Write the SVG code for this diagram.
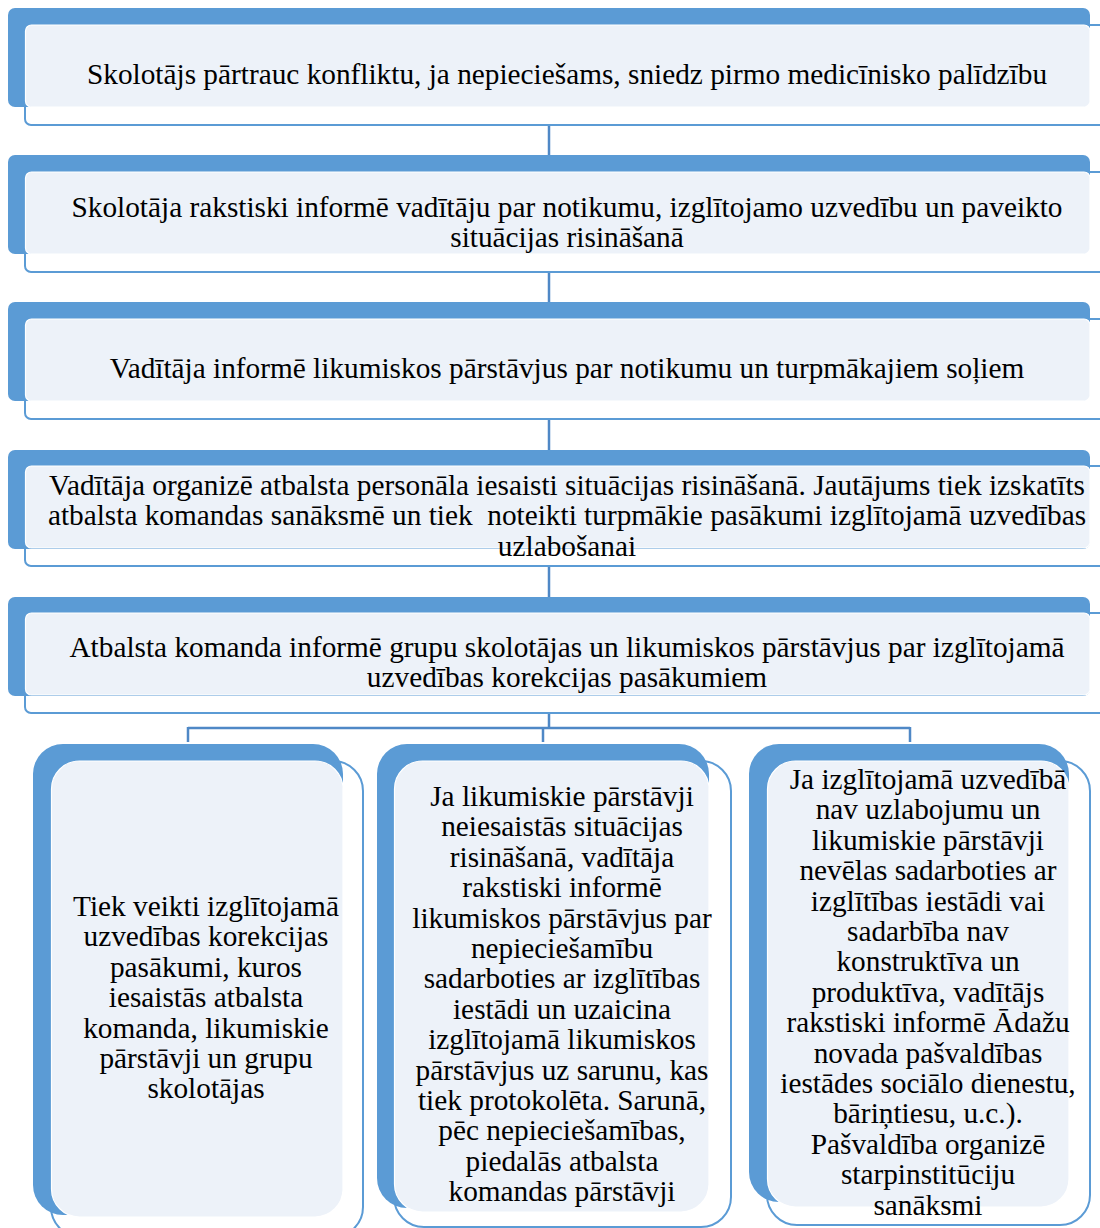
<svg xmlns="http://www.w3.org/2000/svg" width="1100" height="1228" viewBox="0 0 1100 1228">
<defs>
<style>
.bk{fill:#5b9bd5}
.ol{fill:none;stroke:#5b9bd5;stroke-width:2}
.lt{fill:#edf2f9;stroke:#ffffff;stroke-width:1.2}
.cn{fill:none;stroke:#4f88c6;stroke-width:2.5}
text{font-family:"Liberation Serif","Times New Roman",serif;font-size:29.3px;fill:#000;text-anchor:middle}
</style>
</defs>
<rect width="1100" height="1228" fill="#ffffff"/>
<g id="connectors">
<path class="cn" d="M549 125V155M549 272V302M549 419V450M549 566V597M549 713V728M188 728H910M188 727V742M543 727V742M910 727V742"/>
</g>
<g id="bar1">
<rect class="bk" x="8" y="8" width="1082" height="99" rx="7"/>
<rect class="ol" x="25" y="25" width="1100" height="100" rx="6"/>
<rect class="lt" x="25.5" y="25" width="1064.5" height="82" rx="6"/>
<text x="567" y="84">Skolotājs pārtrauc konfliktu, ja nepieciešams, sniedz pirmo medicīnisko palīdzību</text>
</g>
<g id="bar2">
<rect class="bk" x="8" y="155" width="1082" height="99" rx="7"/>
<rect class="ol" x="25" y="172" width="1100" height="100" rx="6"/>
<rect class="lt" x="25.5" y="172" width="1064.5" height="82" rx="6"/>
<text x="567" y="216.5">Skolotāja rakstiski informē vadītāju par notikumu, izglītojamo uzvedību un paveikto</text>
<text x="567" y="246.9">situācijas risināšanā</text>
</g>
<g id="bar3">
<rect class="bk" x="8" y="302" width="1082" height="99" rx="7"/>
<rect class="ol" x="25" y="319" width="1100" height="100" rx="6"/>
<rect class="lt" x="25.5" y="319" width="1064.5" height="82" rx="6"/>
<text x="567" y="378">Vadītāja informē likumiskos pārstāvjus par notikumu un turpmākajiem soļiem</text>
</g>
<g id="bar4">
<rect class="bk" x="8" y="450" width="1082" height="99" rx="7"/>
<rect class="ol" x="25" y="466" width="1100" height="100" rx="6"/>
<rect class="lt" x="25.5" y="466" width="1064.5" height="82" rx="6"/>
<text x="567" y="495">Vadītāja organizē atbalsta personāla iesaisti situācijas risināšanā. Jautājums tiek izskatīts</text>
<text x="567" y="525.4" xml:space="preserve">atbalsta komandas sanāksmē un tiek  noteikti turpmākie pasākumi izglītojamā uzvedības</text>
<text x="567" y="555.8">uzlabošanai</text>
</g>
<g id="bar5">
<rect class="bk" x="8" y="597" width="1082" height="99" rx="7"/>
<rect class="ol" x="25" y="613" width="1100" height="100" rx="6"/>
<rect class="lt" x="25.5" y="613" width="1064.5" height="82" rx="6"/>
<text x="567" y="657">Atbalsta komanda informē grupu skolotājas un likumiskos pārstāvjus par izglītojamā</text>
<text x="567" y="687.4">uzvedības korekcijas pasākumiem</text>
</g>
<g id="box-left">
<rect class="bk" x="33" y="744" width="310" height="471" rx="30"/>
<rect class="ol" x="51" y="761" width="312" height="476" rx="30"/>
<rect class="lt" x="51.5" y="761" width="291.5" height="456" rx="28"/>
<text x="206" y="916">Tiek veikti izglītojamā</text>
<text x="206" y="946.4">uzvedības korekcijas</text>
<text x="206" y="976.8">pasākumi, kuros</text>
<text x="206" y="1007.2">iesaistās atbalsta</text>
<text x="206" y="1037.6">komanda, likumiskie</text>
<text x="206" y="1068">pārstāvji un grupu</text>
<text x="206" y="1098.4">skolotājas</text>
</g>
<g id="box-middle">
<rect class="bk" x="377" y="744" width="332" height="464" rx="30"/>
<rect class="ol" x="394" y="761" width="337" height="466" rx="30"/>
<rect class="lt" x="394.5" y="761" width="314.5" height="451" rx="28"/>
<text x="562" y="806">Ja likumiskie pārstāvji</text>
<text x="562" y="836.4">neiesaistās situācijas</text>
<text x="562" y="866.8">risināšanā, vadītāja</text>
<text x="562" y="897.2">rakstiski informē</text>
<text x="562" y="927.6">likumiskos pārstāvjus par</text>
<text x="562" y="958">nepieciešamību</text>
<text x="562" y="988.4">sadarboties ar izglītības</text>
<text x="562" y="1018.8">iestādi un uzaicina</text>
<text x="562" y="1049.2">izglītojamā likumiskos</text>
<text x="562" y="1079.6">pārstāvjus uz sarunu, kas</text>
<text x="562" y="1110">tiek protokolēta. Sarunā,</text>
<text x="562" y="1140.4">pēc nepieciešamības,</text>
<text x="562" y="1170.8">piedalās atbalsta</text>
<text x="562" y="1201.2">komandas pārstāvji</text>
</g>
<g id="box-right">
<rect class="bk" x="749" y="744" width="320" height="458" rx="30"/>
<rect class="ol" x="767" y="761" width="323" height="464" rx="30"/>
<rect class="lt" x="767.5" y="761" width="301.5" height="446" rx="28"/>
<text x="928" y="789">Ja izglītojamā uzvedībā</text>
<text x="928" y="819.4">nav uzlabojumu un</text>
<text x="928" y="849.8">likumiskie pārstāvji</text>
<text x="928" y="880.2">nevēlas sadarboties ar</text>
<text x="928" y="910.6">izglītības iestādi vai</text>
<text x="928" y="941">sadarbība nav</text>
<text x="928" y="971.4">konstruktīva un</text>
<text x="928" y="1001.8">produktīva, vadītājs</text>
<text x="928" y="1032.2">rakstiski informē Ādažu</text>
<text x="928" y="1062.6">novada pašvaldības</text>
<text x="928" y="1093">iestādes sociālo dienestu,</text>
<text x="928" y="1123.4">bāriņtiesu, u.c.).</text>
<text x="928" y="1153.8">Pašvaldība organizē</text>
<text x="928" y="1184.2">starpinstitūciju</text>
<text x="928" y="1214.6">sanāksmi</text>
</g>
</svg>
